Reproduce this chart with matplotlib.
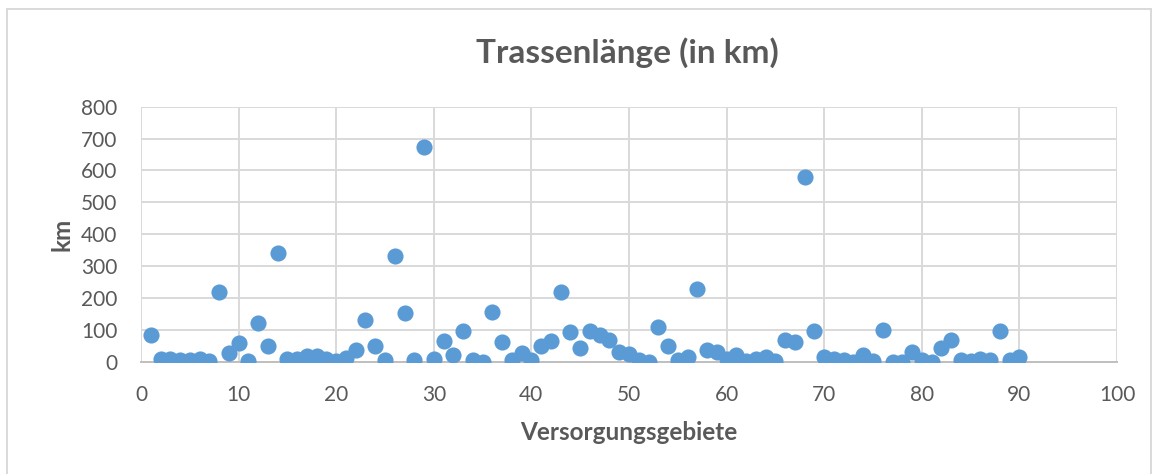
import matplotlib.pyplot as plt
from matplotlib.patches import Rectangle

# Trassenlaenge per Versorgungsgebiet
gebiete = list(range(1, 91))
km = [83, 10, 10, 5, 5, 7, 3, 218, 28, 59,
      1, 120, 50, 340, 10, 10, 17, 17, 10, 3,
      13, 36, 130, 48, 5, 332, 152, 5, 675, 10,
      65, 20, 97, 5, 0, 156, 62, 5, 28, 5,
      49, 65, 220, 93, 43, 97, 85, 67, 31, 25,
      5, 0, 110, 48, 5, 15, 227, 36, 31, 10,
      20, 1, 10, 15, 3, 67, 62, 579, 97, 15,
      10, 5, 0, 20, 2, 100, 0, 0, 31, 5,
      0, 43, 67, 5, 3, 10, 5, 97, 5, 15]

x_ticks = [0, 10, 20, 30, 40, 50, 60, 70, 80, 90, 100]
y_ticks = [0, 100, 200, 300, 400, 500, 600, 700, 800]

W, H = 1160, 474
grey = "#595959"
plt.rcParams["font.family"] = ["Lato", "DejaVu Sans"]

fig = plt.figure(figsize=(W / 100, H / 100), dpi=100)
ax = fig.add_axes([141 / W, 1 - 361.7 / H, (1117 - 141) / W, (361.7 - 106.7) / H])

ax.scatter(gebiete, km, s=135, color="#5B9BD5", zorder=3, linewidths=0)

ax.set_xlim(0, 100)
ax.set_ylim(0, 800)
ax.set_xticks(x_ticks)
ax.set_yticks(y_ticks)
ax.grid(True, color="#d9d9d9", linewidth=1.4)
ax.set_axisbelow(True)
for side in ["left", "right", "top"]:
    ax.spines[side].set_visible(False)
ax.spines["bottom"].set_color("#bfbfbf")
ax.spines["bottom"].set_linewidth(1.4)
ax.spines["bottom"].set_zorder(2)
ax.tick_params(axis="both", length=0, labelsize=15, labelcolor=grey)
ax.tick_params(axis="x", pad=17)
ax.tick_params(axis="y", pad=17)

fig.text(627 / W, 1 - 53 / H, "Trassenlänge (in km)", ha="center", va="center",
         fontsize=24, fontweight="bold", color=grey)
fig.text(629 / W, 1 - 433 / H, "Versorgungsgebiete", ha="center", va="center",
         fontsize=17.5, fontweight="bold", color=grey)
fig.text(62 / W, 1 - 234 / H, "km", ha="center", va="center", rotation=90,
         fontsize=17.5, fontweight="bold", color=grey)

# chart border like in the spreadsheet
fig.patches.append(Rectangle((7 / W, -0.01), (1151 - 7) / W, 1 - 9 / H + 0.01,
                             transform=fig.transFigure, fill=False,
                             edgecolor="#d9d9d9", linewidth=1.4))

fig.savefig("out.png", dpi=100)
